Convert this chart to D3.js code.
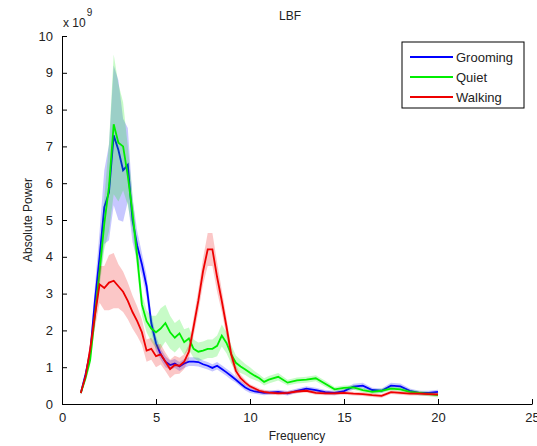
<!DOCTYPE html>
<html>
<head>
<meta charset="utf-8">
<script src="https://cdnjs.cloudflare.com/ajax/libs/d3/7.8.5/d3.min.js"></script>
<style>
  body { margin: 0; background: #fff; }
  svg { font-family: "Liberation Sans", Arial, sans-serif; }
</style>
</head>
<body>
<div id="chart"></div>
<script>
// frequency grid (Hz)
var freqs = [1, 1.25, 1.5, 1.75, 2, 2.25, 2.5, 2.75, 3, 3.25, 3.5, 3.75, 4, 4.25, 4.5, 4.75,
  5, 5.25, 5.5, 5.75, 6, 6.25, 6.5, 6.75, 7, 7.25, 7.5, 7.75, 8, 8.25, 8.5, 8.75,
  9, 9.25, 9.5, 9.75, 10, 10.25, 10.5, 10.75, 11, 11.5, 12, 12.5, 13, 13.5, 14, 14.5,
  15, 15.5, 16, 16.5, 17, 17.5, 18, 18.5, 19, 19.5, 20];

// mean absolute power, x 10^9
var grooming = [0.3, 0.8, 1.4, 2.8, 4.0, 5.35, 5.75, 7.3, 6.9, 6.35, 6.5, 5.0, 4.3, 3.8, 3.2, 2.2,
  1.65, 1.35, 1.15, 1.06, 1.1, 1.02, 1.1, 1.15, 1.15, 1.14, 1.08, 1.04, 0.98, 1.04, 0.95, 0.86,
  0.76, 0.66, 0.55, 0.45, 0.38, 0.34, 0.32, 0.3, 0.31, 0.33, 0.29, 0.36, 0.42, 0.38, 0.32, 0.3,
  0.35, 0.47, 0.5, 0.38, 0.36, 0.5, 0.48, 0.36, 0.3, 0.3, 0.33];
var quiet = [0.3, 0.7, 1.2, 2.4, 3.6, 4.9, 5.9, 7.6, 7.1, 7.0, 6.2, 5.2, 4.0, 2.7, 2.25, 2.05,
  1.95, 2.05, 2.2, 1.95, 1.8, 1.92, 1.68, 1.78, 1.5, 1.42, 1.45, 1.5, 1.5, 1.58, 1.86, 1.66,
  1.35, 1.12, 1.02, 0.94, 0.85, 0.77, 0.7, 0.6, 0.66, 0.74, 0.58, 0.64, 0.66, 0.7, 0.55, 0.4,
  0.44, 0.45, 0.38, 0.33, 0.36, 0.42, 0.4, 0.33, 0.3, 0.27, 0.24];
var walking = [0.3, 0.75, 1.5, 2.4, 3.25, 3.15, 3.3, 3.35, 3.2, 3.05, 2.8, 2.5, 2.25, 1.95, 1.45, 1.5,
  1.3, 1.35, 1.15, 0.95, 1.06, 1.04, 1.15, 1.42, 2.1, 2.8, 3.6, 4.2, 4.2, 3.45, 2.8, 2.1,
  1.35, 0.9, 0.7, 0.58, 0.48, 0.42, 0.36, 0.33, 0.31, 0.29, 0.3, 0.34, 0.36, 0.3, 0.29, 0.29,
  0.3, 0.28, 0.27, 0.24, 0.22, 0.32, 0.3, 0.28, 0.28, 0.27, 0.26];

// error band half-widths, x 10^9
var groomingErr = [0.05, 0.1, 0.2, 0.4, 0.7, 1.0, 1.3, 1.9, 1.9, 1.4, 1.0, 0.6, 0.4, 0.3, 0.3, 0.25,
  0.2, 0.15, 0.15, 0.12, 0.12, 0.12, 0.12, 0.12, 0.12, 0.12, 0.1, 0.1, 0.1, 0.1, 0.1, 0.1,
  0.1, 0.08, 0.08, 0.08, 0.08, 0.06, 0.06, 0.06, 0.06, 0.06, 0.06, 0.06, 0.06, 0.06, 0.06, 0.06,
  0.06, 0.08, 0.08, 0.06, 0.06, 0.08, 0.08, 0.06, 0.06, 0.06, 0.06];
var quietErr = [0.05, 0.1, 0.15, 0.25, 0.4, 0.7, 1.2, 1.9, 1.6, 1.2, 0.8, 0.5, 0.35, 0.3, 0.3, 0.35,
  0.45, 0.55, 0.5, 0.45, 0.4, 0.38, 0.35, 0.3, 0.25, 0.25, 0.25, 0.25, 0.25, 0.28, 0.3, 0.28,
  0.25, 0.2, 0.18, 0.15, 0.15, 0.12, 0.1, 0.1, 0.1, 0.1, 0.08, 0.08, 0.08, 0.08, 0.08, 0.06,
  0.06, 0.06, 0.06, 0.06, 0.06, 0.06, 0.06, 0.06, 0.06, 0.06, 0.06];
var walkingErr = [0.05, 0.1, 0.2, 0.35, 0.5, 0.6, 0.75, 0.75, 0.6, 0.55, 0.5, 0.45, 0.4, 0.35, 0.3, 0.3,
  0.3, 0.28, 0.25, 0.25, 0.25, 0.22, 0.2, 0.2, 0.25, 0.3, 0.35, 0.45, 0.45, 0.4, 0.3, 0.25,
  0.2, 0.15, 0.1, 0.08, 0.06, 0.06, 0.06, 0.06, 0.05, 0.05, 0.05, 0.05, 0.05, 0.05, 0.05, 0.05,
  0.05, 0.05, 0.05, 0.05, 0.05, 0.05, 0.05, 0.05, 0.05, 0.05, 0.05];

var seriesNames = ["Grooming", "Quiet", "Walking"];
var seriesColors = ["#0000ff", "#00ee00", "#ee0000"];
var xTicks = [0, 5, 10, 15, 20, 25];
var yTicks = [0, 1, 2, 3, 4, 5, 6, 7, 8, 9, 10];

var series = [
  { name: seriesNames[0], color: seriesColors[0], mean: grooming, err: groomingErr },
  { name: seriesNames[1], color: seriesColors[1], mean: quiet, err: quietErr },
  { name: seriesNames[2], color: seriesColors[2], mean: walking, err: walkingErr }
];

var W = 537, H = 446;
var margin = { top: 36, right: 5, bottom: 42, left: 62 };
var width = W - margin.left - margin.right;
var height = H - margin.top - margin.bottom;

var svg = d3.select('#chart').append('svg')
  .attr('width', W)
  .attr('height', H);

var g = svg.append('g')
  .attr('transform', 'translate(' + margin.left + ',' + margin.top + ')');

var x = d3.scaleLinear().domain([0, 25]).range([0, width]);
var y = d3.scaleLinear().domain([0, 10]).range([height, 0]);

// bands and lines
var area = d3.area()
  .x(function (d) { return x(d.f); })
  .y0(function (d) { return y(d.m - d.e); })
  .y1(function (d) { return y(d.m + d.e); });

var line = d3.line()
  .x(function (d) { return x(d.f); })
  .y(function (d) { return y(d.m); });

series.forEach(function (s) {
  var pts = freqs.map(function (f, i) { return { f: f, m: s.mean[i], e: s.err[i] }; });
  g.append('path')
    .datum(pts)
    .attr('d', area)
    .attr('fill', s.color)
    .attr('fill-opacity', 0.22)
    .attr('stroke', 'none');
  g.append('path')
    .datum(pts)
    .attr('d', line)
    .attr('fill', 'none')
    .attr('stroke', s.color)
    .attr('stroke-width', 1.8);
});

// axes, MATLAB style ticks pointing inward
var xAxis = g.append('g')
  .attr('transform', 'translate(0,' + height + ')')
  .call(d3.axisBottom(x).tickValues(xTicks).tickSizeInner(-5).tickSizeOuter(0).tickPadding(9));
var yAxis = g.append('g')
  .call(d3.axisLeft(y).tickValues(yTicks).tickSizeInner(-5).tickSizeOuter(0).tickPadding(9));

[xAxis, yAxis].forEach(function (a) {
  a.select('.domain').attr('stroke', '#000').attr('stroke-width', 1);
  a.selectAll('.tick line').attr('stroke', '#000');
  a.selectAll('.tick text')
    .style('font-size', '13px')
    .style('font-family', '"Liberation Sans", Arial, sans-serif')
    .attr('fill', '#222');
});

// exponent label
var expo = svg.append('text')
  .attr('x', margin.left + 1)
  .attr('y', 27)
  .style('font-size', '12px')
  .attr('fill', '#222');
expo.append('tspan').text('x 10');
expo.append('tspan').attr('dy', -11).attr('dx', 1).style('font-size', '10px').text('9');

// title
svg.append('text')
  .attr('x', 290)
  .attr('y', 20)
  .attr('text-anchor', 'middle')
  .style('font-size', '12px')
  .attr('fill', '#222')
  .text('LBF');

// axis labels
svg.append('text')
  .attr('text-anchor', 'middle')
  .attr('transform', 'translate(32,' + (margin.top + height / 2) + ')rotate(-90)')
  .style('font-size', '12px')
  .attr('fill', '#222')
  .text('Absolute Power');

svg.append('text')
  .attr('x', margin.left + x(12.5))
  .attr('y', 440)
  .attr('text-anchor', 'middle')
  .style('font-size', '12px')
  .attr('fill', '#222')
  .text('Frequency');

// legend
var legend = svg.append('g').attr('transform', 'translate(402,42)');
legend.append('rect')
  .attr('width', 122)
  .attr('height', 66)
  .attr('fill', '#fff')
  .attr('stroke', '#000')
  .attr('stroke-width', 1);

series.forEach(function (s, i) {
  var row = legend.append('g').attr('transform', 'translate(0,' + (15 + i * 20) + ')');
  row.append('line')
    .attr('x1', 8).attr('x2', 51)
    .attr('y1', 0).attr('y2', 0)
    .attr('stroke', s.color)
    .attr('stroke-width', 1.8);
  row.append('text')
    .attr('x', 54)
    .attr('y', 5)
    .style('font-size', '13px')
    .attr('fill', '#222')
    .text(s.name);
});
</script>
</body>
</html>
